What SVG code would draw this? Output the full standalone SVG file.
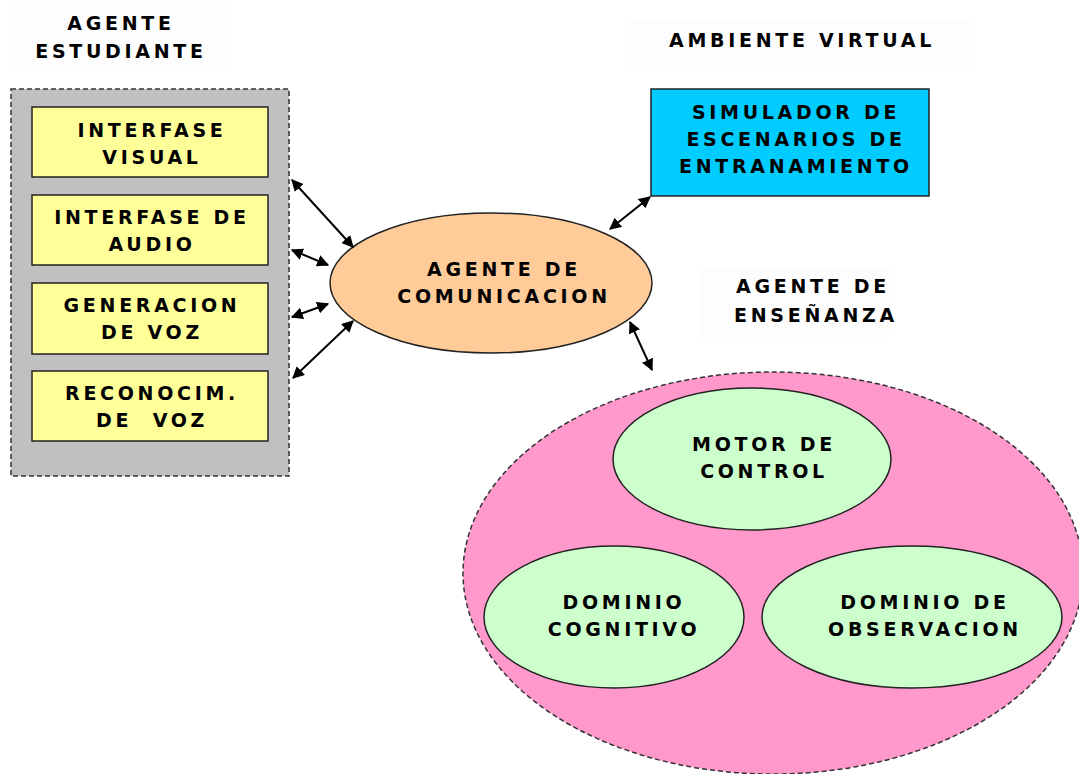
<svg xmlns="http://www.w3.org/2000/svg" width="1079" height="774" viewBox="0 0 1079 774">
<style>
text{font-family:"DejaVu Sans","Liberation Sans",Arial,sans-serif;font-weight:bold;font-size:19px;letter-spacing:3.7px;fill:#000;text-anchor:middle}
.box{stroke:#222;stroke-width:1.5}
.dash{stroke:#333;stroke-width:1.5;stroke-dasharray:5 3}
.conn{stroke:#000;stroke-width:2;fill:none;marker-start:url(#ah);marker-end:url(#ah)}
.lblbg{fill:#fdfdfd}
</style>
<defs>
<marker id="ah" viewBox="0 0 10 10" refX="9" refY="5" markerWidth="6" markerHeight="6" orient="auto-start-reverse" markerUnits="strokeWidth">
<path d="M0,0 L10,5 L0,10 z" fill="#000"/>
</marker>
</defs>
<rect width="1079" height="774" fill="#fff"/>

<g id="lbl-estudiante">
<rect class="lblbg" x="10" y="0" width="215" height="72"/>
<text x="121" y="30">AGENTE</text>
<text x="121" y="58">ESTUDIANTE</text>
</g>

<g id="agente-estudiante">
<rect x="11" y="89" width="278" height="387" fill="#c0c0c0" class="dash"/>
</g>

<g id="interfase-visual">
<rect class="box" x="32" y="107" width="236" height="70" fill="#ffff99"/>
<text x="152" y="137">INTERFASE</text>
<text x="152" y="164">VISUAL</text>
</g>
<g id="interfase-audio">
<rect class="box" x="32" y="195" width="236" height="70" fill="#ffff99"/>
<text x="152" y="224">INTERFASE DE</text>
<text x="152" y="251">AUDIO</text>
</g>
<g id="generacion-voz">
<rect class="box" x="32" y="283" width="236" height="71" fill="#ffff99"/>
<text x="152" y="312">GENERACION</text>
<text x="152" y="339">DE VOZ</text>
</g>
<g id="reconocim-voz">
<rect class="box" x="32" y="371" width="236" height="70" fill="#ffff99"/>
<text x="152" y="400">RECONOCIM.</text>
<text x="152" y="427">DE&#160; VOZ</text>
</g>

<g id="lbl-ambiente">
<rect class="lblbg" x="630" y="20" width="340" height="52"/>
<text x="802" y="47">AMBIENTE VIRTUAL</text>
</g>

<g id="simulador">
<rect class="box" x="651" y="89" width="278" height="107" fill="#00ccff"/>
<text x="796" y="119">SIMULADOR DE</text>
<text x="796" y="146">ESCENARIOS DE</text>
<text x="796" y="173">ENTRANAMIENTO</text>
</g>

<g id="agente-comunicacion">
<ellipse cx="491" cy="283" rx="161" ry="70" fill="#ffcc99" class="box"/>
<text x="504" y="276">AGENTE DE</text>
<text x="504" y="303">COMUNICACION</text>
</g>

<g id="lbl-ensenanza">
<rect class="lblbg" x="700" y="268" width="190" height="70"/>
<text x="813" y="293">AGENTE DE</text>
<text x="816" y="322">ENSEÑANZA</text>
</g>

<g id="agente-ensenanza">
<ellipse cx="773" cy="573" rx="310" ry="201" fill="#ff99cc" class="dash"/>
</g>

<g id="motor-control">
<ellipse cx="752" cy="459" rx="139" ry="71" fill="#ccffcc" class="box"/>
<text x="764" y="451">MOTOR DE</text>
<text x="764" y="478">CONTROL</text>
</g>
<g id="dominio-cognitivo">
<ellipse cx="614" cy="617" rx="130" ry="71" fill="#ccffcc" class="box"/>
<text x="624" y="609">DOMINIO</text>
<text x="624" y="636">COGNITIVO</text>
</g>
<g id="dominio-observacion">
<ellipse cx="912" cy="617" rx="150" ry="71" fill="#ccffcc" class="box"/>
<text x="925" y="609">DOMINIO DE</text>
<text x="925" y="636">OBSERVACION</text>
</g>

<g id="connectors">
<line class="conn" x1="292" y1="180" x2="353" y2="247"/>
<line class="conn" x1="292" y1="250" x2="328" y2="265"/>
<line class="conn" x1="292" y1="317" x2="328" y2="304"/>
<line class="conn" x1="293" y1="378" x2="353" y2="321"/>
<line class="conn" x1="610" y1="229" x2="650" y2="197"/>
<line class="conn" x1="630" y1="322" x2="652" y2="370"/>
</g>
</svg>
